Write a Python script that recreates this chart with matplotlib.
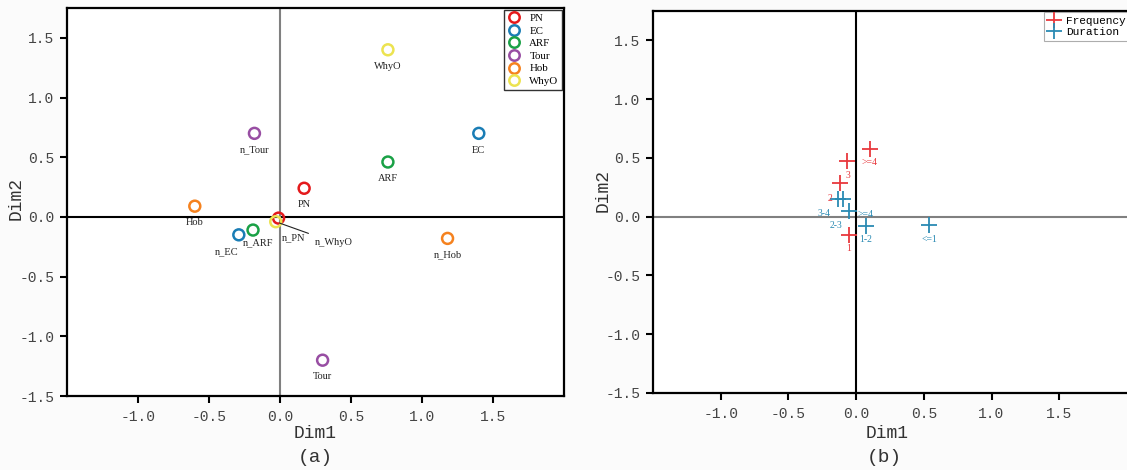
import matplotlib
matplotlib.use("Agg")
import matplotlib.pyplot as plt
from matplotlib.lines import Line2D

# Panel (a): category coordinates on the first two dimensions
groups = ["PN", "EC", "ARF", "Tour", "Hob", "WhyO"]
group_colors = ["#e41a1c", "#1a7db5", "#1aa146", "#984ea3", "#f5821f", "#ece350"]

# each group has a "yes" point (label = group) and a "no" point (label n_group)
yes_x = [0.17, 1.40, 0.76, 0.30, -0.60, 0.76]
yes_y = [0.24, 0.70, 0.46, -1.20, 0.09, 1.40]
no_x = [-0.01, -0.29, -0.19, -0.18, 1.18, -0.03]
no_y = [-0.01, -0.15, -0.11, 0.70, -0.18, -0.04]

# Panel (b): frequency / duration categories
freq_labels = ["1", "2", "3", ">=4"]
freq_x = [-0.054, -0.122, -0.068, 0.10]
freq_y = [-0.156, 0.289, 0.470, 0.578]
dur_labels = ["<=1", "1-2", "2-3", "3-4", ">=4"]
dur_x = [0.539, 0.070, -0.099, -0.134, -0.053]
dur_y = [-0.074, -0.080, 0.147, 0.147, 0.045]

tick_font = "Liberation Mono"
text_font = "Liberation Serif"
ticks = [-1.0, -0.5, 0.0, 0.5, 1.0, 1.5]

fig = plt.figure(figsize=(11.27, 4.70), dpi=100, facecolor="#fbfbfb")
W, H = 1127.0, 470.0
ax_a = fig.add_axes([67 / W, (H - 396) / H, (564 - 67) / W, (396 - 8) / H])
ax_b = fig.add_axes([653 / W, (H - 393) / H, (1131 - 653) / W, (393 - 11) / H])


def style_axes(ax, xmax, hline_color, vline_color):
    ax.set_xlim(-1.5, xmax)
    ax.set_ylim(-1.5, 1.75)
    ax.set_xticks(ticks)
    ax.set_yticks([-1.5] + ticks)
    ax.set_xticklabels(["%.1f" % t for t in ticks])
    ax.set_yticklabels(["%.1f" % t for t in [-1.5] + ticks])
    for lab in ax.get_xticklabels() + ax.get_yticklabels():
        lab.set_fontfamily(tick_font)
        lab.set_fontsize(10.5)
        lab.set_color("#444444")
    ax.tick_params(direction="out", length=5, width=1.5, color="black")
    ax.tick_params(axis="x", pad=5)
    ax.tick_params(axis="y", pad=4)
    for sp in ax.spines.values():
        sp.set_linewidth(1.6)
        sp.set_color("black")
    ax.axhline(0, color=hline_color, lw=1.5, zorder=1)
    ax.axvline(0, color=vline_color, lw=1.5, zorder=1)
    ax.set_xlabel("Dim1", fontfamily=tick_font, fontsize=13, color="#333333")
    ax.set_ylabel("Dim2", fontfamily=tick_font, fontsize=13, color="#333333")


style_axes(ax_a, 2.0, "black", "#808080")
style_axes(ax_b, 2.03, "#808080", "black")
ax_a.yaxis.set_label_coords(-0.086, 0.51)
ax_a.xaxis.set_label_coords(0.5, -0.075)
ax_b.yaxis.set_label_coords(-0.086, 0.53)
ax_b.xaxis.set_label_coords(0.49, -0.084)

# --- panel (a) ---
for i, g in enumerate(groups):
    ax_a.scatter([yes_x[i], no_x[i]], [yes_y[i], no_y[i]], s=62, facecolors="none",
                 edgecolors=group_colors[i], linewidths=1.8, zorder=3)

label_off = {"n_EC": (-9, -12), "n_ARF": (4, -9)}
for i, g in enumerate(groups):
    ax_a.annotate(g, (yes_x[i], yes_y[i]), xytext=(0, -12), textcoords="offset points",
                  ha="center", va="center", fontsize=7.5, fontfamily=text_font, color="#222222")
    name = "n_" + g
    if name == "n_PN":
        ax_a.annotate(name, (no_x[i], no_y[i]), xytext=(11, -14), textcoords="offset points",
                      ha="center", va="center", fontsize=7.5, fontfamily=text_font, color="#222222")
    elif name == "n_WhyO":
        ax_a.annotate(name, (no_x[i], no_y[i]), xytext=(42, -15), textcoords="offset points",
                      ha="center", va="center", fontsize=7.5, fontfamily=text_font, color="#222222",
                      arrowprops=dict(arrowstyle="-", color="#222222", lw=0.8,
                                      shrinkA=4, shrinkB=3))
    else:
        dx, dy = label_off.get(name, (0, -12))
        ax_a.annotate(name, (no_x[i], no_y[i]), xytext=(dx, dy), textcoords="offset points",
                      ha="center", va="center", fontsize=7.5, fontfamily=text_font, color="#222222")

handles_a = [Line2D([], [], marker="o", ls="none", markersize=7.5, markerfacecolor="none",
                    markeredgecolor=c, markeredgewidth=1.8) for c in group_colors]
leg_a = ax_a.legend(handles_a, groups, loc="upper right",
                    prop={"family": text_font, "size": 7.8}, frameon=True, fancybox=False,
                    borderpad=0.35, labelspacing=0.28, handletextpad=0.8, handlelength=1.2,
                    borderaxespad=0.15)
leg_a.get_frame().set_edgecolor("black")
leg_a.get_frame().set_linewidth(1.0)

# --- panel (b) ---
red, blue = "#e8383d", "#2a8ab3"
ax_b.scatter(freq_x, freq_y, marker="+", s=120, color=red, linewidths=1.3, zorder=3)
ax_b.scatter(dur_x, dur_y, marker="+", s=120, color=blue, linewidths=1.3, zorder=3)

freq_off = {"1": (0, -10), "2": (-7, -11), "3": (1, -10), ">=4": (0, -10)}
for lab, x, y in zip(freq_labels, freq_x, freq_y):
    ax_b.annotate(lab, (x, y), xytext=freq_off[lab], textcoords="offset points",
                  ha="center", va="center", fontsize=7, fontfamily=text_font, color=red)
dur_off = {"<=1": (0, -10), "1-2": (0, -10), "2-3": (-5, -19), "3-4": (-10, -10), ">=4": (12, -2)}
for lab, x, y in zip(dur_labels, dur_x, dur_y):
    ax_b.annotate(lab, (x, y), xytext=dur_off[lab], textcoords="offset points",
                  ha="center", va="center", fontsize=7, fontfamily=text_font, color=blue)

handles_b = [Line2D([], [], marker="+", ls="none", markersize=11, markeredgewidth=1.3, color=c)
             for c in (red, blue)]
leg_b = ax_b.legend(handles_b, ["Frequency", "Duration"], loc="upper right",
                    prop={"family": tick_font, "size": 8}, frameon=True, fancybox=False,
                    borderpad=0.35, labelspacing=0.1, handletextpad=0.5, handlelength=1.2,
                    borderaxespad=0.1)
leg_b.get_frame().set_edgecolor("#999999")
leg_b.get_frame().set_linewidth(0.8)

# panel captions
fig.text(315 / W, 1 - 458 / H, "(a)", ha="center", va="center", fontsize=14,
         fontfamily=tick_font, color="#333333")
fig.text(884 / W, 1 - 458 / H, "(b)", ha="center", va="center", fontsize=14,
         fontfamily=tick_font, color="#333333")

fig.savefig("out.png", dpi=100, facecolor=fig.get_facecolor())
